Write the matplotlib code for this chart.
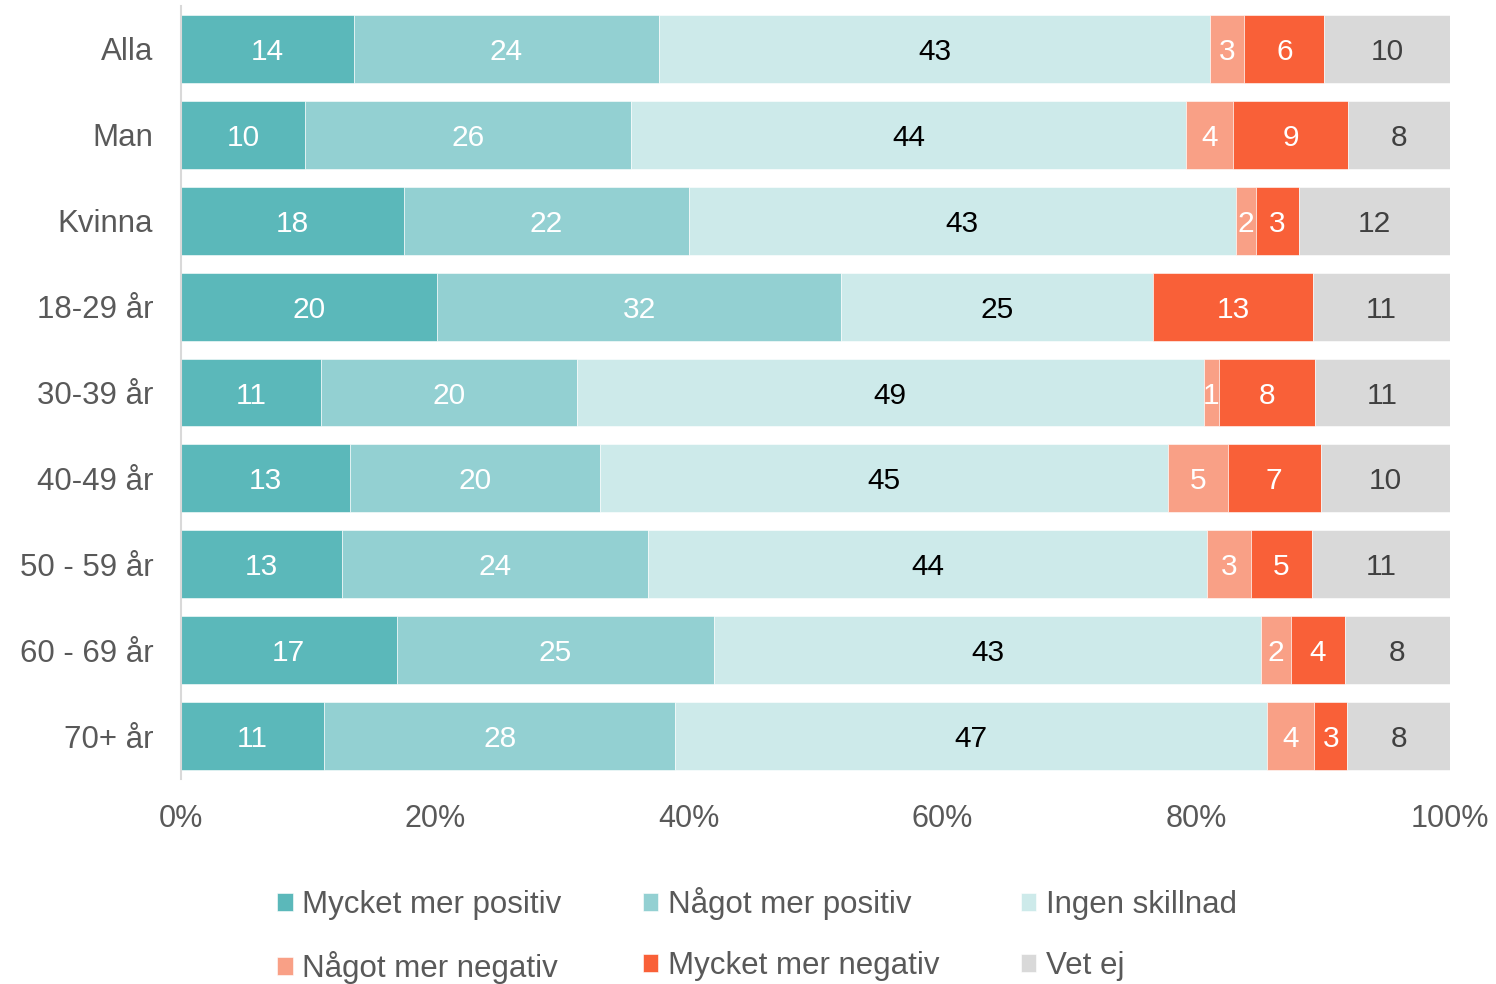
import matplotlib.pyplot as plt
import numpy as np

plt.rcParams['font.family'] = ['Liberation Sans', 'DejaVu Sans']

grupper = ["Alla", "Man", "Kvinna", "18-29 år", "30-39 år", "40-49 år",
           "50 - 59 år", "60 - 69 år", "70+ år"]

serier = ["Mycket mer positiv", "Något mer positiv", "Ingen skillnad",
          "Något mer negativ", "Mycket mer negativ", "Vet ej"]

# andelar i procent
mycket_pos = [13.6, 9.8, 17.6, 20.2, 11.0, 13.3, 12.7, 17.0, 11.3]
nagot_pos = [24.1, 25.7, 22.4, 31.8, 20.2, 19.7, 24.1, 25.0, 27.7]
ingen = [43.4, 43.7, 43.1, 24.6, 49.4, 44.8, 44.0, 43.1, 46.7]
nagot_neg = [2.7, 3.7, 1.6, 0.0, 1.2, 4.7, 3.4, 2.4, 3.7]
mycket_neg = [6.3, 9.1, 3.4, 12.6, 7.6, 7.3, 4.8, 4.2, 2.6]
vet_ej = [9.9, 8.0, 11.9, 10.8, 10.6, 10.2, 10.9, 8.3, 8.1]

farger = ["#5BB8BA", "#93D0D2", "#CDEAEA", "#F9A086", "#F96038", "#D9D9D9"]
textfarger = ["white", "white", "black", "white", "white", "#404040"]

data = np.array([mycket_pos, nagot_pos, ingen, nagot_neg, mycket_neg, vet_ej])
data = data / data.sum(axis=0) * 100

fig = plt.figure(figsize=(14.96, 9.84), dpi=100)
ax = fig.add_axes([181 / 1496, 1 - 779 / 984, (1450 - 181) / 1496, 773 / 984])

y = np.arange(len(grupper))
vanster = np.zeros(len(grupper))
staplar = []
for i, namn in enumerate(serier):
    b = ax.barh(y, data[i], left=vanster, height=0.79, color=farger[i],
                edgecolor="white", linewidth=0.4, label=namn)
    staplar.append(b)
    for j in range(len(grupper)):
        v = data[i, j]
        if v > 0.5:
            ax.text(vanster[j] + v / 2, y[j], f"{v:.0f}", ha="center",
                    va="center_baseline", fontsize=21.5, color=textfarger[i])
    vanster += data[i]

ax.set_xlim(0, 100)
ax.set_ylim(len(grupper) - 0.5, -0.5)
ax.set_yticks(y)
ax.set_yticklabels(grupper, fontsize=22.5, color="#595959")
ax.set_xticks(range(0, 101, 20))
ax.set_xticklabels([f"{t}%" for t in range(0, 101, 20)], fontsize=22,
                   color="#595959")
ax.tick_params(axis="both", length=0)
ax.tick_params(axis="x", pad=18)
ax.tick_params(axis="y", pad=20)
for s in ["top", "right", "bottom"]:
    ax.spines[s].set_visible(False)
ax.spines["left"].set_color("#D9D9D9")
ax.spines["left"].set_linewidth(1.5)

ordning = [0, 3, 1, 4, 2, 5]
h = [staplar[k] for k in ordning]
l = [serier[k] for k in ordning]
fig.legend(h, l, ncol=3, loc="center", bbox_to_anchor=(0.506, 0.049),
           frameon=False, fontsize=22.5, labelcolor="#595959",
           handlelength=0.5, handleheight=0.5, handletextpad=0.3,
           columnspacing=2.6, labelspacing=1.0)

plt.savefig("out.png", dpi=100)
